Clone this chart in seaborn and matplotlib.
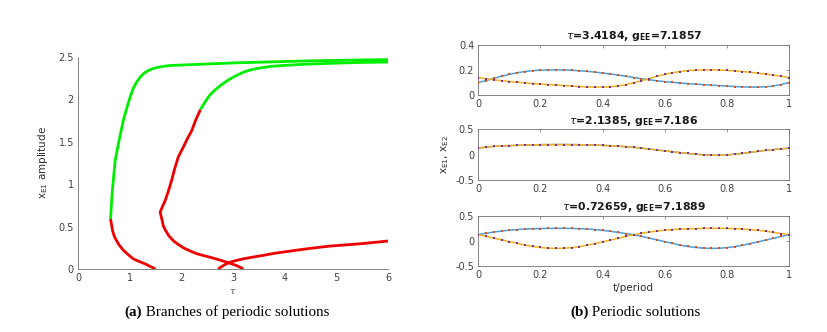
import matplotlib
matplotlib.use("Agg")
import matplotlib.pyplot as plt
import seaborn as sns

# ---- (a) branches of periodic solutions: tau vs x_E1 amplitude ----
b1_red_tau = [1.50, 1.40, 1.30, 1.18, 1.07, 0.97, 0.88, 0.80, 0.74, 0.70, 0.67, 0.65, 0.63]
b1_red_amp = [0.00, 0.03, 0.06, 0.09, 0.12, 0.17, 0.22, 0.28, 0.34, 0.39, 0.45, 0.52, 0.59]
b1_green_tau = [0.63, 0.64, 0.66, 0.69, 0.72, 0.77, 0.82, 0.88, 0.95, 1.01, 1.07, 1.13, 1.20,
                1.28, 1.36, 1.46, 1.56, 1.66, 1.78, 2.20, 3.00, 4.50, 6.00]
b1_green_amp = [0.59, 0.69, 0.89, 1.09, 1.28, 1.44, 1.59, 1.76, 1.91, 2.03, 2.13, 2.20, 2.26,
                2.31, 2.34, 2.365, 2.38, 2.39, 2.40, 2.41, 2.43, 2.455, 2.47]

b2_red_tau = [3.20, 3.14, 3.07, 2.98, 2.88, 2.72, 2.55, 2.42, 2.30, 2.16, 2.04, 1.94, 1.85,
              1.76, 1.69, 1.65, 1.63, 1.61, 1.59, 1.63, 1.69, 1.75, 1.81, 1.87, 1.94, 2.04,
              2.12, 2.20, 2.28, 2.37]
b2_red_amp = [0.00, 0.02, 0.04, 0.06, 0.08, 0.11, 0.14, 0.16, 0.18, 0.215, 0.25, 0.29, 0.33,
              0.39, 0.46, 0.51, 0.57, 0.62, 0.67, 0.73, 0.81, 0.92, 1.04, 1.18, 1.32, 1.44,
              1.54, 1.63, 1.76, 1.88]
b2_green_tau = [2.37, 2.46, 2.55, 2.65, 2.75, 2.84, 2.94, 3.06, 3.20, 3.35, 3.52, 3.74, 3.97,
                4.40, 4.87, 5.40, 6.00]
b2_green_amp = [1.88, 1.97, 2.05, 2.11, 2.16, 2.20, 2.24, 2.28, 2.32, 2.35, 2.37, 2.39, 2.40,
                2.415, 2.425, 2.435, 2.44]

b3_red_tau = [2.71, 2.76, 2.81, 2.87, 2.94, 3.06, 3.20, 3.38, 3.58, 3.80, 4.03, 4.45, 4.87,
              5.20, 5.51, 6.00]
b3_red_amp = [0.00, 0.02, 0.04, 0.06, 0.08, 0.10, 0.12, 0.14, 0.16, 0.185, 0.205, 0.24, 0.27,
              0.285, 0.30, 0.33]

# ---- (b) periodic solutions over one period ----
t_period = [i / 40 for i in range(41)]

p1_title = r"$\tau$=3.4184, g$_{\mathbf{EE}}$=7.1857"
p1_xe1 = [0.100, 0.115, 0.133, 0.150, 0.165, 0.178, 0.188, 0.195, 0.199, 0.201, 0.201,
          0.200, 0.198, 0.194, 0.189, 0.183, 0.176, 0.168, 0.160, 0.150, 0.140,
          0.130, 0.122, 0.114, 0.107, 0.101, 0.096, 0.091, 0.087, 0.083, 0.079,
          0.075, 0.071, 0.068, 0.065, 0.063, 0.063, 0.066, 0.072, 0.084, 0.100]
p1_xe2 = [0.140, 0.130, 0.122, 0.115, 0.108, 0.102, 0.097, 0.092, 0.088, 0.084, 0.080,
          0.076, 0.072, 0.068, 0.065, 0.063, 0.063, 0.066, 0.072, 0.082, 0.098,
          0.114, 0.132, 0.150, 0.165, 0.178, 0.188, 0.195, 0.199, 0.201, 0.201,
          0.200, 0.197, 0.193, 0.188, 0.182, 0.175, 0.167, 0.158, 0.149, 0.140]

p2_title = r"$\tau$=2.1385, g$_{\mathbf{EE}}$=7.186"
p2_xe1 = [0.127, 0.150, 0.163, 0.172, 0.178, 0.184, 0.190, 0.193, 0.197, 0.198, 0.199,
          0.199, 0.198, 0.196, 0.193, 0.189, 0.183, 0.176, 0.168, 0.157, 0.144,
          0.128, 0.111, 0.093, 0.075, 0.057, 0.040, 0.024, 0.010, -0.004, -0.012,
          -0.012, -0.005, 0.008, 0.025, 0.045, 0.065, 0.084, 0.100, 0.115, 0.127]
p2_xe2 = [0.127, 0.150, 0.163, 0.172, 0.178, 0.184, 0.190, 0.193, 0.197, 0.198, 0.199,
          0.199, 0.198, 0.196, 0.193, 0.189, 0.183, 0.176, 0.168, 0.157, 0.144,
          0.128, 0.111, 0.093, 0.075, 0.057, 0.040, 0.024, 0.010, -0.004, -0.012,
          -0.012, -0.005, 0.008, 0.025, 0.045, 0.065, 0.084, 0.100, 0.115, 0.127]

p3_title = r"$\tau$=0.72659, g$_{\mathbf{EE}}$=7.1889"
p3_xe1 = [0.125, 0.150, 0.175, 0.195, 0.212, 0.225, 0.234, 0.240, 0.245, 0.248, 0.249,
          0.249, 0.247, 0.243, 0.236, 0.225, 0.210, 0.190, 0.168, 0.145, 0.122,
          0.090, 0.055, 0.020, -0.015, -0.050, -0.085, -0.112, -0.132, -0.145, -0.150,
          -0.147, -0.135, -0.115, -0.088, -0.055, -0.020, 0.015, 0.050, 0.088, 0.125]
p3_xe2 = [0.125, 0.090, 0.055, 0.020, -0.015, -0.050, -0.085, -0.112, -0.132, -0.145, -0.150,
          -0.147, -0.135, -0.115, -0.088, -0.055, -0.020, 0.015, 0.050, 0.088, 0.122,
          0.150, 0.175, 0.195, 0.212, 0.225, 0.234, 0.240, 0.245, 0.248, 0.249,
          0.249, 0.247, 0.243, 0.236, 0.225, 0.210, 0.190, 0.168, 0.145, 0.125]

sns.set_style("white")
plt.rcParams['font.family'] = ['DejaVu Sans']
plt.rcParams['mathtext.fontset'] = 'dejavusans'

tick_col = '#404040'
spine_col = '#707070'
GREEN = '#00ee00'
RED = '#ee0000'
BLUE = '#4a9ede'
YELLOW = '#edb120'
ORANGE = '#d95319'
PURPLE = '#7e2f8e'

fig = plt.figure(figsize=(8.27, 3.32), dpi=100)


def style_axes(ax, box):
    for side in ['top', 'right']:
        ax.spines[side].set_visible(box)
    for sp in ax.spines.values():
        sp.set_color(spine_col)
        sp.set_linewidth(0.6)
    ax.tick_params(direction='in', length=2.5, width=0.5, colors=spine_col,
                   labelcolor=tick_col, labelsize=7, pad=3,
                   top=box, right=box)


# left panel
ax = fig.add_axes([78 / 827, 1 - 269 / 332, 310 / 827, 212 / 332])
segments = [
    (b1_red_tau, b1_red_amp, RED), (b1_green_tau, b1_green_amp, GREEN),
    (b2_red_tau, b2_red_amp, RED), (b2_green_tau, b2_green_amp, GREEN),
    (b3_red_tau, b3_red_amp, RED),
]
for xs, ys, c in segments:
    sns.lineplot(x=xs, y=ys, sort=False, estimator=None, color=c, linewidth=2.0,
                 ax=ax, solid_capstyle='butt', solid_joinstyle='round')
ax.set_xlim(0, 6)
ax.set_ylim(0, 2.5)
ax.set_xticks([0, 1, 2, 3, 4, 5, 6])
ax.set_xticklabels(['0', '1', '2', '3', '4', '5', '6'])
ax.set_yticks([0, 0.5, 1, 1.5, 2, 2.5])
ax.set_yticklabels(['0', '0.5', '1', '1.5', '2', '2.5'])
ax.set_xlabel(r"$\tau$", fontsize=6.5, color='#606060', labelpad=3)
ax.set_ylabel(r"x$_{\mathrm{E1}}$ amplitude", fontsize=7.5, color='#303030', labelpad=6)
style_axes(ax, False)

# right panels
panels = [
    (45, 95, p1_title, p1_xe1, p1_xe2, (0, 0.4), [0, 0.2, 0.4], ['0', '0.2', '0.4']),
    (129.3, 180, p2_title, p2_xe1, p2_xe2, (-0.5, 0.5), [-0.5, 0, 0.5], ['-0.5', '0', '0.5']),
    (215.7, 266, p3_title, p3_xe1, p3_xe2, (-0.5, 0.5), [-0.5, 0, 0.5], ['-0.5', '0', '0.5']),
]
for i, (top, bot, title, xe1, xe2, ylim, yt, ytl) in enumerate(panels):
    axr = fig.add_axes([478.3 / 827, 1 - bot / 332, 310.7 / 827, (bot - top) / 332])
    sns.lineplot(x=t_period, y=xe1, sort=False, estimator=None, color=BLUE, linewidth=1.1, ax=axr)
    sns.lineplot(x=t_period, y=xe2, sort=False, estimator=None, color=YELLOW, linewidth=1.1, ax=axr)
    sns.scatterplot(x=t_period, y=xe1, marker='s', s=3.5, color=ORANGE, linewidth=0, ax=axr, zorder=3)
    sns.scatterplot(x=t_period, y=xe2, marker='s', s=3.5, color=PURPLE, linewidth=0, ax=axr, zorder=3)
    axr.set_xlim(0, 1)
    axr.set_ylim(*ylim)
    axr.set_xticks([0, 0.2, 0.4, 0.6, 0.8, 1])
    axr.set_xticklabels(['0', '0.2', '0.4', '0.6', '0.8', '1'])
    axr.set_yticks(yt)
    axr.set_yticklabels(ytl)
    axr.set_title(title, fontsize=7.8, fontweight='bold', color='#1a1a1a', pad=4)
    style_axes(axr, True)
    if i == 1:
        axr.set_ylabel(r"x$_{\mathrm{E1}}$, x$_{\mathrm{E2}}$", fontsize=7.5, color='#303030', labelpad=3)
    if i == 2:
        axr.set_xlabel("t/period", fontsize=7.5, color='#303030', labelpad=2)

# captions
serif = ['Liberation Serif', 'DejaVu Serif']
for x0, lab, rest in [(124 / 827, "(a)", " Branches of periodic solutions"),
                      (570 / 827, "(b)", " Periodic solutions")]:
    t1 = fig.text(x0, 1 - 319 / 332, lab, family=serif, fontweight='bold',
                  fontsize=10.8, ha='left', va='bottom', color='black')
    fig.add_artist(plt.Annotation(rest, xy=(1, 0), xycoords=t1, ha='left', va='bottom',
                                  family=serif, fontsize=10.8, color='black'))

fig.savefig("out.png", dpi=100)
